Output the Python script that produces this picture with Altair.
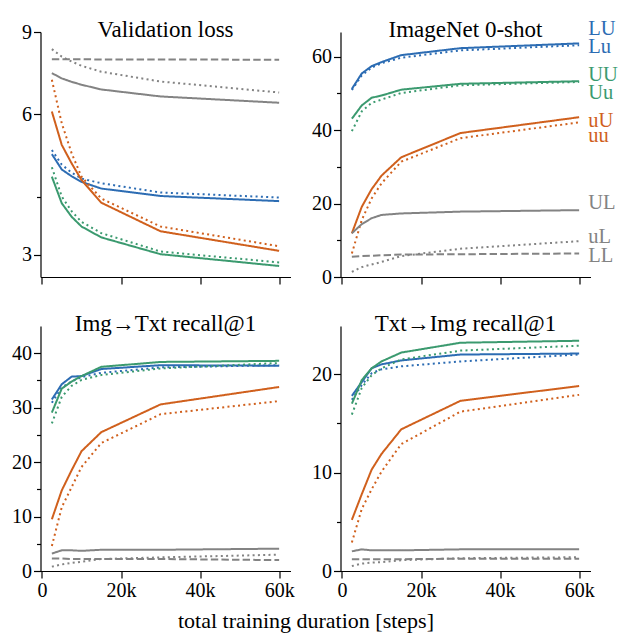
import altair as alt
import pandas as pd

# ---------------- data ----------------
STEPS = [2500, 5000, 7500, 10000, 15000, 30000, 60000]
SERIES = ["LU", "Lu", "UU", "Uu", "uU", "uu", "UL", "uL", "LL"]

VAL_LOSS = {
    "LU": [4.93, 4.57, 4.42, 4.30, 4.16, 4.01, 3.91],
    "Lu": [5.03, 4.68, 4.50, 4.37, 4.27, 4.08, 3.98],
    "UU": [4.41, 3.87, 3.62, 3.45, 3.27, 3.01, 2.84],
    "Uu": [4.62, 4.00, 3.72, 3.53, 3.34, 3.05, 2.89],
    "uU": [6.08, 5.16, 4.71, 4.34, 3.88, 3.37, 3.06],
    "uu": [7.11, 5.74, 4.95, 4.41, 3.96, 3.45, 3.13],
    "UL": [7.35, 7.16, 7.04, 6.94, 6.78, 6.55, 6.35],
    "uL": [8.27, 7.97, 7.78, 7.62, 7.40, 7.05, 6.68],
    "LL": [7.87, 7.87, 7.87, 7.87, 7.86, 7.86, 7.85],
}
IMAGENET = {
    "LU": [51.2, 55.4, 57.4, 58.5, 60.4, 62.3, 63.6],
    "Lu": [50.9, 54.9, 57.0, 58.2, 59.7, 61.7, 63.1],
    "UU": [43.1, 46.7, 48.8, 49.4, 51.0, 52.6, 53.3],
    "Uu": [39.7, 45.1, 47.4, 48.3, 50.1, 52.2, 53.1],
    "uU": [11.9, 19.1, 23.9, 27.6, 32.6, 39.2, 43.5],
    "uu": [6.4, 15.5, 21.4, 25.5, 31.4, 37.8, 42.1],
    "UL": [11.9, 14.4, 16.0, 16.9, 17.3, 17.8, 18.2],
    "uL": [1.4, 2.7, 3.4, 4.1, 5.7, 7.7, 9.75],
    "LL": [5.5, 5.7, 5.8, 5.9, 6.1, 6.2, 6.4],
}
IMG2TXT = {
    "LU": [31.5, 34.3, 35.7, 35.8, 37.1, 37.8, 37.7],
    "Lu": [30.9, 33.7, 34.8, 35.6, 36.4, 37.4, 37.8],
    "UU": [29.1, 33.5, 34.8, 35.8, 37.5, 38.4, 38.6],
    "Uu": [27.1, 32.0, 34.0, 35.1, 36.0, 37.2, 38.2],
    "uU": [9.5, 14.8, 18.5, 22.0, 25.5, 30.6, 33.8],
    "uu": [4.6, 11.7, 15.4, 19.1, 23.5, 28.8, 31.2],
    "UL": [3.2, 3.8, 3.8, 3.7, 3.9, 3.9, 4.1],
    "uL": [0.8, 1.2, 1.5, 1.7, 2.2, 2.5, 3.0],
    "LL": [2.3, 2.3, 2.2, 2.2, 2.2, 2.2, 2.0],
}
TXT2IMG = {
    "LU": [17.8, 19.2, 20.6, 21.0, 21.4, 22.0, 22.1],
    "Lu": [17.4, 18.9, 20.1, 20.5, 20.8, 21.3, 22.0],
    "UU": [17.0, 19.4, 20.6, 21.3, 22.2, 23.2, 23.4],
    "Uu": [15.9, 18.6, 19.9, 20.6, 21.5, 22.4, 22.9],
    "uU": [5.2, 7.8, 10.3, 11.9, 14.4, 17.3, 18.8],
    "uu": [2.9, 6.3, 8.3, 10.1, 12.9, 16.2, 17.9],
    "UL": [2.0, 2.2, 2.1, 2.1, 2.1, 2.2, 2.2],
    "uL": [0.5, 0.75, 0.85, 0.9, 1.1, 1.3, 1.4],
    "LL": [1.2, 1.2, 1.2, 1.2, 1.2, 1.25, 1.25],
}

X_TICKS = [0, 20000, 40000, 60000]
X_TITLE = "total training duration [steps]"

# ---------------- styles ----------------
BLUE, GREEN, ORANGE, GRAY = "#2c6cb3", "#3b9a6f", "#d0601d", "#838383"
COLORS = [BLUE, BLUE, GREEN, GREEN, ORANGE, ORANGE, GRAY, GRAY, GRAY]
SOLID, DOT, DASH = [1, 0], [2, 3.3], [7.4, 3.2]
DASHES = [SOLID, DOT, SOLID, DOT, SOLID, DOT, SOLID, DOT, DASH]
LABEL_DY = [-14.6, 1.9, -6, 10.8, 3.9, 13.2, -7.6, -3.8, 2.5]
FONT = "Liberation Serif"
W, H = 250, 245


def to_df(d):
    rows = []
    for s in SERIES:
        for x, v in zip(STEPS, d[s]):
            rows.append({"series": s, "step": x, "value": v})
    return pd.DataFrame(rows)


def text_layer(txt, x, y, size):
    return alt.Chart(pd.DataFrame({"t": [txt]})).mark_text(
        align="center", baseline="alphabetic", font=FONT, fontSize=size, color="black"
    ).encode(text="t:N", x=alt.value(x), y=alt.value(y))


def panel(d, title, ydomain, major, minor, ylog=False, xlabels=False, labels=False, xtitle=False):
    df = to_df(d)
    allticks = sorted(major + minor)
    minor_test = "indexof(" + str(minor) + ", datum.value) >= 0"
    xenc = alt.X(
        "step:Q",
        scale=alt.Scale(domain=[-375, 62875], nice=False, zero=False),
        axis=alt.Axis(
            values=X_TICKS,
            labels=xlabels,
            labelExpr="datum.value == 0 ? '0' : (datum.value / 1000) + 'k'",
            title=None,
            grid=False,
            tickSize=7,
        ),
    )
    yenc = alt.Y(
        "value:Q",
        scale=alt.Scale(type="log" if ylog else "linear", domain=ydomain,
                        nice=False, zero=False),
        axis=alt.Axis(
            values=allticks,
            labelExpr=minor_test + " ? '' : '' + datum.value",
            title=None,
            grid=False,
            tickSize={"condition": {"test": minor_test, "value": 4}, "value": 7},
        ),
    )
    lines = alt.Chart(df).mark_line(strokeWidth=2, clip=True).encode(
        x=xenc,
        y=yenc,
        color=alt.Color("series:N", scale=alt.Scale(domain=SERIES, range=COLORS), legend=None),
        strokeDash=alt.StrokeDash("series:N", scale=alt.Scale(domain=SERIES, range=DASHES), legend=None),
    )
    layers = [lines, text_layer(title, W / 2, 4.5, 23)]
    if labels:
        last = df[df.step == STEPS[-1]]
        for s, col, dy in zip(SERIES, COLORS, LABEL_DY):
            layers.append(
                alt.Chart(last[last.series == s]).mark_text(
                    align="left", baseline="middle", dx=9, dy=dy,
                    font=FONT, fontSize=20.5, color=col,
                ).encode(x=alt.X("step:Q"), y=alt.Y("value:Q"), text="series:N")
            )
    if xtitle:
        layers.append(text_layer(X_TITLE, 265.5, H + 57, 22))
    return alt.layer(*layers).properties(width=W, height=H)


p1 = panel(VAL_LOSS, "Validation loss", [2.69, 9], [3, 6, 9], [4], ylog=True)
p2 = panel(IMAGENET, "ImageNet 0-shot", [0, 66.7], [0, 20, 40, 60], [10, 30, 50], labels=True)
p3 = panel(IMG2TXT, "Img\u2192Txt recall@1", [0, 45], [0, 10, 20, 30, 40], [5, 15, 25, 35],
           xlabels=True, xtitle=True)
p4 = panel(TXT2IMG, "Txt\u2192Img recall@1", [0, 24.9], [0, 10, 20], [5, 15], xlabels=True)

chart = alt.concat(
    p1, p2, p3, p4, columns=2, spacing={"row": 49, "column": 50}, bounds="flush"
).properties(
    padding={"left": 11.5, "top": 18, "right": 0, "bottom": 5},
    background="white",
).configure_view(stroke=None).configure_axis(
    labelFont=FONT, labelFontSize=20, labelColor="black", labelPadding=2,
    domainColor="black", domainWidth=1.2, tickColor="black", tickWidth=1.2,
    grid=False,
)

chart.save("out.html", embed_options={"renderer": "svg", "actions": False})
